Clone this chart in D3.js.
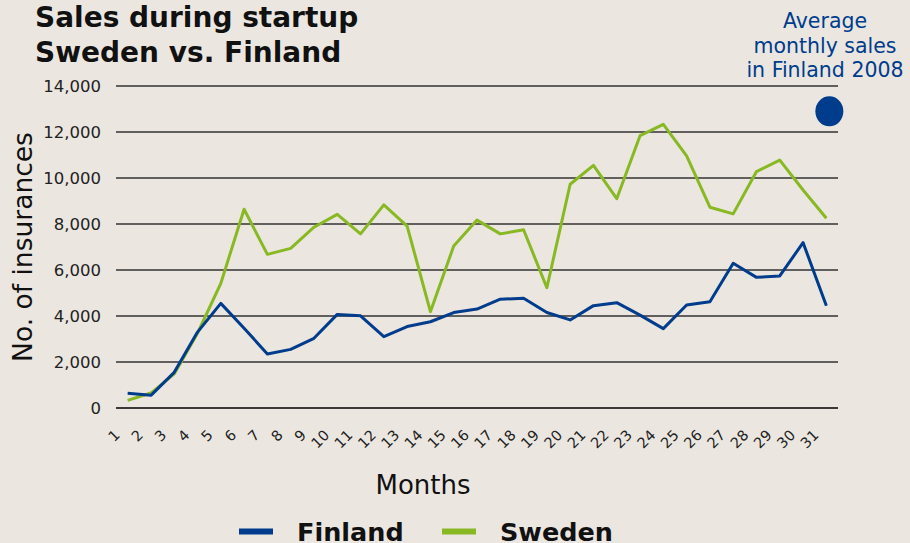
<!DOCTYPE html>
<html lang="en">
<head>
<meta charset="utf-8">
<script src="https://d3js.org/d3.v7.min.js"></script>
<style>
  body { margin: 0; background: #ebe7e0; }
  svg { display: block; font-family: "DejaVu Sans", Verdana, sans-serif; }
</style>
</head>
<body>
<svg width="910" height="543"></svg>
<script>
// month numbers 1..31
var months = ["1","2","3","4","5","6","7","8","9","10","11","12","13","14","15","16",
  "17","18","19","20","21","22","23","24","25","26","27","28","29","30","31"];

var finland = [640, 550, 1550, 3300, 4550, 3470, 2350, 2550, 3030, 4070, 4010, 3100, 3540, 3750, 4150, 4300,
  4730, 4770, 4150, 3830, 4450, 4580, 4040, 3450, 4480, 4620, 6290, 5680, 5740, 7190, 4450];

var sweden = [330, 650, 1480, 3250, 5420, 8640, 6680, 6940, 7860, 8420, 7570, 8830, 7910, 4190, 7040, 8170,
  7570, 7750, 5230, 9730, 10550, 9100, 11840, 12330, 10960, 8730, 8440, 10280, 10780, 9480, 8250];

var yTicks = [0, 2000, 4000, 6000, 8000, 10000, 12000, 14000];
var finlandAvg2008 = 12900;

var blue = "#003c8c", green = "#88b822";

var svg = d3.select("svg"),
  margin = { top: 86, right: 72, bottom: 135, left: 116 },
  width = +svg.attr("width") - margin.left - margin.right,
  height = +svg.attr("height") - margin.top - margin.bottom,
  g = svg.append("g").attr("transform", "translate(" + margin.left + "," + margin.top + ")");

var x = d3.scalePoint().domain(months).range([0, width]).padding(0.5);
var y = d3.scaleLinear().domain([0, 14000]).range([height, 0]);

// gridlines
g.selectAll(".grid")
  .data(yTicks)
  .enter().append("line")
  .attr("x1", 0).attr("x2", width)
  .attr("y1", function (d) { return y(d); })
  .attr("y2", function (d) { return y(d); })
  .attr("stroke", function (d) { return d === 0 ? "#000" : "#333"; })
  .attr("stroke-width", 1.3);

// y axis labels
g.selectAll(".ytick")
  .data(yTicks)
  .enter().append("text")
  .attr("x", -15)
  .attr("y", function (d) { return y(d); })
  .attr("dy", "0.36em")
  .attr("text-anchor", "end")
  .attr("fill", "#222")
  .style("font-size", "16.5px")
  .text(d3.format(","));

// x axis labels, rotated
g.selectAll(".xtick")
  .data(months)
  .enter().append("text")
  .attr("transform", function (d) { return "translate(" + (x(d) - 10.5) + "," + (height + 24.5) + ") rotate(-45)"; })
  .attr("text-anchor", "end")
  .attr("dy", "0.35em")
  .attr("fill", "#222")
  .style("font-size", "14.5px")
  .text(function (d) { return d; });

var line = d3.line()
  .x(function (d, i) { return x(months[i]); })
  .y(function (d) { return y(d); });

g.append("path").datum(sweden)
  .attr("fill", "none").attr("stroke", green).attr("stroke-width", 3)
  .attr("stroke-linejoin", "round").attr("d", line);

g.append("path").datum(finland)
  .attr("fill", "none").attr("stroke", blue).attr("stroke-width", 3)
  .attr("stroke-linejoin", "round").attr("d", line);

// average dot
g.append("ellipse")
  .attr("cx", x("31") + 3)
  .attr("cy", y(finlandAvg2008))
  .attr("rx", 14).attr("ry", 15)
  .attr("fill", blue);

// annotation
var note = svg.append("text")
  .attr("text-anchor", "middle")
  .attr("fill", blue)
  .style("font-size", "20.5px");
["Average", "monthly sales", "in Finland 2008"].forEach(function (t, i) {
  note.append("tspan").attr("x", 825).attr("y", 28 + i * 24.5).text(t);
});

// title
var title = svg.append("text")
  .attr("font-weight", "bold")
  .attr("fill", "#111")
  .style("font-size", "28px");
title.append("tspan").attr("x", 35).attr("y", 27).text("Sales during startup");
title.append("tspan").attr("x", 35).attr("y", 62).text("Sweden vs. Finland");

// axis titles
svg.append("text")
  .attr("transform", "translate(32," + (margin.top + y(7000)) + ") rotate(-90)")
  .attr("text-anchor", "middle")
  .attr("fill", "#111")
  .style("font-size", "26.5px")
  .text("No. of insurances");

svg.append("text")
  .attr("x", 423).attr("y", 494)
  .attr("text-anchor", "middle")
  .attr("fill", "#111")
  .style("font-size", "26px")
  .text("Months");

// legend
var legend = [{ name: "Finland", color: blue, x: 239 }, { name: "Sweden", color: green, x: 442 }];
legend.forEach(function (d) {
  svg.append("line")
    .attr("x1", d.x).attr("x2", d.x + 34)
    .attr("y1", 531.5).attr("y2", 531.5)
    .attr("stroke", d.color).attr("stroke-width", 6);
  svg.append("text")
    .attr("x", d.x + 58).attr("y", 541)
    .attr("font-weight", "bold")
    .attr("fill", "#111")
    .style("font-size", "25.5px")
    .text(d.name);
});
</script>
</body>
</html>
